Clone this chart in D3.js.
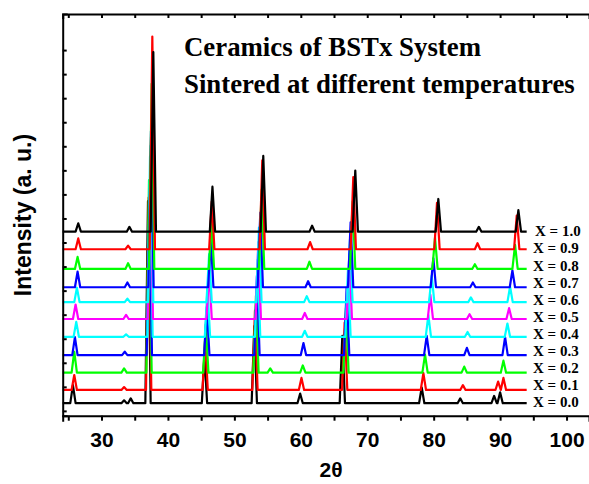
<!DOCTYPE html>
<html>
<head>
<meta charset="utf-8">
<script src="https://cdn.jsdelivr.net/npm/d3@7"></script>
<style>
  body { margin: 0; background: #fff; }
  svg { display: block; }
  .axis path, .axis line { stroke: #000; stroke-width: 2; }
  .axis text { font-family: "Liberation Sans", Arial, sans-serif; font-weight: bold; font-size: 21px; fill: #000; }
</style>
</head>
<body>
<div id="chart"></div>
<script>
// series labels, colours and vertical offsets (a.u.)
const seriesLabels = ["X = 0.0", "X = 0.1", "X = 0.2", "X = 0.3", "X = 0.4", "X = 0.5",
                      "X = 0.6", "X = 0.7", "X = 0.8", "X = 0.9", "X = 1.0"];
const seriesColors = ["#000000", "#ff0000", "#00ff00", "#0000ff", "#00ffff", "#ff00ff",
                      "#00ffff", "#0000ff", "#00ff00", "#ff0000", "#000000"];
const seriesOffsets = [0.52, 1.07, 1.79, 2.52, 3.28, 4.02, 4.72, 5.34, 6.10, 6.92, 7.65];

// peaks: [2theta, height above baseline]
const peaksX00 = [[25.7, 0.75], [33.4, 0.12], [34.4, 0.2], [37.0, 8.4], [45.5, 2.0], [53.0, 3.2],
                  [59.9, 0.4], [66.25, 2.8], [78.2, 0.65], [84.0, 0.2], [89.1, 0.3], [90.0, 0.45]];
const peaksX01 = [[25.9, 0.62], [33.4, 0.12], [37.1, 8.0], [45.6, 2.1], [53.1, 3.3], [60.1, 0.5],
                  [66.6, 2.8], [78.45, 0.7], [84.4, 0.2], [89.7, 0.35], [90.5, 0.5]];
const peaksX02 = [[25.9, 0.87], [33.4, 0.18], [37.15, 8.0], [45.7, 2.0], [53.25, 3.2], [55.4, 0.18],
                  [60.3, 0.3], [66.8, 2.7], [78.7, 0.75], [84.6, 0.25], [90.5, 0.5]];
const peaksX03 = [[26.0, 0.75], [33.5, 0.14], [37.2, 6.0], [45.85, 2.0], [53.4, 3.3], [60.4, 0.5],
                  [66.9, 2.8], [78.95, 0.8], [85.0, 0.3], [90.75, 0.75]];
const peaksX04 = [[26.2, 0.62], [33.7, 0.1], [37.3, 7.5], [45.95, 2.0], [53.5, 3.2], [60.6, 0.25],
                  [67.1, 2.8], [79.2, 0.9], [85.1, 0.2], [91.1, 0.55]];
const peaksX05 = [[26.1, 0.6], [33.7, 0.17], [37.35, 6.0], [46.2, 2.0], [53.6, 3.2], [60.6, 0.25],
                  [67.3, 2.7], [79.5, 1.0], [85.4, 0.2], [91.35, 0.45]];
const peaksX06 = [[26.3, 0.6], [33.9, 0.15], [37.4, 6.5], [46.2, 2.0], [53.7, 3.1], [60.9, 0.25],
                  [67.4, 2.6], [79.7, 1.1], [85.6, 0.2], [91.5, 0.65]];
const peaksX07 = [[26.4, 0.65], [33.9, 0.2], [37.45, 6.5], [46.45, 2.0], [53.9, 3.1], [61.1, 0.25],
                  [67.5, 2.7], [79.95, 1.2], [85.9, 0.2], [91.85, 0.7]];
const peaksX08 = [[26.4, 0.5], [34.0, 0.24], [37.55, 7.7], [46.55, 2.0], [54.1, 3.3], [61.3, 0.3],
                  [67.8, 2.8], [80.2, 1.3], [86.2, 0.2], [92.25, 1.0]];
const peaksX09 = [[26.5, 0.45], [34.0, 0.15], [37.65, 8.84], [46.6, 1.98], [54.2, 3.7], [61.4, 0.3],
                  [67.9, 3.0], [80.5, 1.93], [86.6, 0.25], [92.5, 1.4]];
const peaksX10 = [[26.5, 0.35], [34.2, 0.2], [37.8, 7.47], [46.7, 1.87], [54.35, 3.15], [61.7, 0.25],
                  [68.2, 2.54], [80.7, 1.36], [86.8, 0.2], [92.75, 0.9]];
const seriesPeaks = [peaksX00, peaksX01, peaksX02, peaksX03, peaksX04, peaksX05,
                     peaksX06, peaksX07, peaksX08, peaksX09, peaksX10];

const scanRange = [24.16, 94.0];
const xTicks = [25, 30, 35, 40, 45, 50, 55, 60, 65, 70, 75, 80, 85, 90, 95, 100];
const yTicks = [0.2, 1.2, 2.2, 3.2, 4.2, 5.2, 6.2, 7.2, 8.2, 9.2, 10.2, 11.2, 12.2, 13.2, 14.2, 15.2];
const titleLines = ["Ceramics of BSTx System", "Sintered at different temperatures"];

const width = 589, height = 484;
const margin = { top: 14, right: 0, bottom: 68.3, left: 62.7 };

const svg = d3.select("#chart")
  .append("svg")
  .attr("width", width)
  .attr("height", height);

const x = d3.scaleLinear()
  .domain([24.16, 103.38])
  .range([margin.left, width - margin.right]);

const y = d3.scaleLinear()
  .domain([0, 16.7])
  .range([height - margin.bottom, margin.top]);

// each peak drawn as a narrow spike on the series baseline
const halfBase = 0.4;
const line = d3.line()
  .x(d => x(d[0]))
  .y(d => y(d[1]));

seriesPeaks.forEach((peaks, i) => {
  const base = seriesOffsets[i];
  const pts = [[scanRange[0], base]];
  peaks.forEach(p => {
    pts.push([p[0] - halfBase, base]);
    pts.push([p[0], base + p[1]]);
    pts.push([p[0] + halfBase, base]);
  });
  pts.push([scanRange[1], base]);

  svg.append("path")
    .datum(pts)
    .attr("fill", "none")
    .attr("stroke", seriesColors[i])
    .attr("stroke-width", 2.2)
    .attr("stroke-linejoin", "round")
    .attr("d", line);
});

// series labels, nudged upward so neighbours keep a 17px gap
let lastCenter = Infinity;
seriesLabels.forEach((label, i) => {
  const center = Math.min(y(seriesOffsets[i]) - 1, lastCenter - 17);
  lastCenter = center;
  svg.append("text")
    .attr("x", i === seriesLabels.length - 1 ? 535 : 533)
    .attr("y", center + 5)
    .style("font-family", "'Liberation Serif', 'Times New Roman', serif")
    .style("font-weight", "bold")
    .style("font-size", "15px")
    .text(label);
});

// axes
svg.append("g")
  .attr("class", "axis")
  .attr("transform", `translate(0, ${height - margin.bottom})`)
  .call(d3.axisBottom(x).tickValues(xTicks).tickSize(5).tickPadding(11)
    .tickFormat(d => d % 10 === 0 ? d : ""));

svg.append("g")
  .attr("class", "axis")
  .attr("transform", `translate(0, ${margin.top})`)
  .call(d3.axisTop(x).tickValues(xTicks).tickSize(-4).tickFormat(""));

svg.append("g")
  .attr("class", "axis")
  .attr("transform", `translate(${margin.left}, 0)`)
  .call(d3.axisLeft(y).tickValues(yTicks).tickSize(-4).tickFormat(""));

svg.selectAll(".axis .domain").attr("stroke-linecap", "square");

// axis titles
svg.append("text")
  .attr("x", 331)
  .attr("y", 477)
  .attr("text-anchor", "middle")
  .style("font-family", "'Liberation Sans', Arial, sans-serif")
  .style("font-weight", "bold")
  .style("font-size", "21px")
  .text("2θ");

svg.append("text")
  .attr("transform", "translate(31, 215) rotate(-90)")
  .attr("text-anchor", "middle")
  .style("font-family", "'Liberation Sans', Arial, sans-serif")
  .style("font-weight", "bold")
  .style("font-size", "23px")
  .text("Intensity (a. u.)");

// title block
svg.selectAll(".title")
  .data(titleLines)
  .enter()
  .append("text")
  .attr("class", "title")
  .attr("x", 184)
  .attr("y", (d, i) => 56 + i * 37)
  .style("font-family", "'Liberation Serif', 'Times New Roman', serif")
  .style("font-weight", "bold")
  .style("font-size", "26.8px")
  .text(d => d);
</script>
</body>
</html>
